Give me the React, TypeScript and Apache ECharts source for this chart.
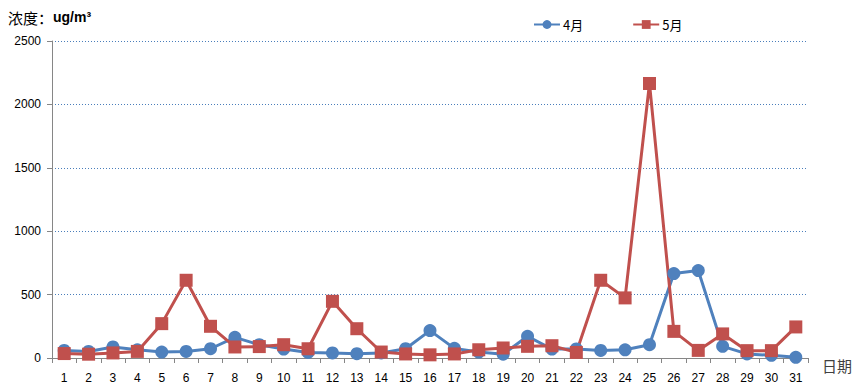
import React, { useEffect, useRef } from "react";
import * as echarts from "echarts";

const days = Array.from({ length: 31 }, (_, i) => String(i + 1));
const april = [60, 52, 87, 65, 47, 52, 73, 163, 105, 71, 44, 40, 34, 40, 73, 216, 76, 47, 30, 171, 71, 71, 60, 65, 105, 666, 690, 92, 32, 21, 5];
const may = [35, 30, 40, 52, 271, 613, 250, 87, 90, 105, 73, 447, 231, 47, 32, 25, 32, 65, 79, 92, 97, 44, 613, 474, 2165, 210, 60, 190, 58, 58, 245];
const yTicks = [0, 500, 1000, 1500, 2000, 2500];

export default function App() {
  const ref = useRef<HTMLDivElement>(null);
  useEffect(() => {
    const chart = echarts.init(ref.current!, null, { renderer: "svg" });
    chart.setOption({
      animation: false,
      backgroundColor: "#ffffff",
      textStyle: { fontFamily: "'Liberation Sans', 'Noto Sans CJK SC', sans-serif" },
      title: {
        text: "{a|浓度：}{b|ug/m³}",
        left: 8,
        top: 4,
        padding: 0,
        textStyle: {
          fontWeight: "normal",
          rich: {
            a: { fontSize: 15, fontWeight: "normal", fontFamily: "'Noto Sans CJK SC'", color: "#000", height: 26 },
            b: { fontSize: 14, fontWeight: "bold", fontFamily: "'Liberation Sans'", color: "#000", height: 26 },
          },
        },
      },
      legend: {
        left: 533,
        top: 18,
        padding: 0,
        itemWidth: 26,
        itemHeight: 11,
        itemGap: 49,
        textStyle: { fontSize: 13, color: "#000", fontFamily: "'Noto Sans CJK SC'", padding: [0, 0, 0, -2] },
        data: ["4月", "5月"],
      },
      grid: { left: 52, right: 58, top: 41, bottom: 34, containLabel: false },
      xAxis: {
        type: "category",
        data: days,
        boundaryGap: true,
        name: "日期",
        nameLocation: "end",
        nameGap: 14,
        nameTextStyle: { fontSize: 15, color: "#404040", fontFamily: "'Noto Sans CJK SC'", verticalAlign: "top", padding: [0, 0, 0, 0] },
        axisLine: { lineStyle: { color: "#868686", width: 1 } },
        axisTick: { show: true, alignWithLabel: false, length: 5, lineStyle: { color: "#868686" } },
        axisLabel: { fontSize: 12, color: "#000", margin: 14, interval: 0 },
        splitLine: { show: false },
      },
      yAxis: {
        type: "value",
        min: 0,
        max: 2500,
        interval: 500,
        axisLine: { show: true, lineStyle: { color: "#868686", width: 1 } },
        axisTick: { show: true, length: 5, lineStyle: { color: "#868686" } },
        axisLabel: { fontSize: 12, color: "#000", margin: 11, customValues: yTicks, formatter: (v: number) => String(v) },
        splitLine: { show: true, lineStyle: { color: "#4a7ebb", type: [1, 2], width: 1 } },
      },
      series: [
        {
          name: "4月",
          type: "line",
          data: april,
          symbol: "circle",
          symbolSize: 13,
          itemStyle: { color: "#4f81bd" },
          lineStyle: { color: "#4f81bd", width: 3 },
        },
        {
          name: "5月",
          type: "line",
          data: may,
          symbol: "rect",
          symbolSize: 13,
          itemStyle: { color: "#c0504d" },
          lineStyle: { color: "#c0504d", width: 3 },
        },
      ],
    });
    return () => chart.dispose();
  }, []);
  return <div ref={ref} style={{ width: 866, height: 392, position: "absolute", left: 0, top: 0 }} />;
}
